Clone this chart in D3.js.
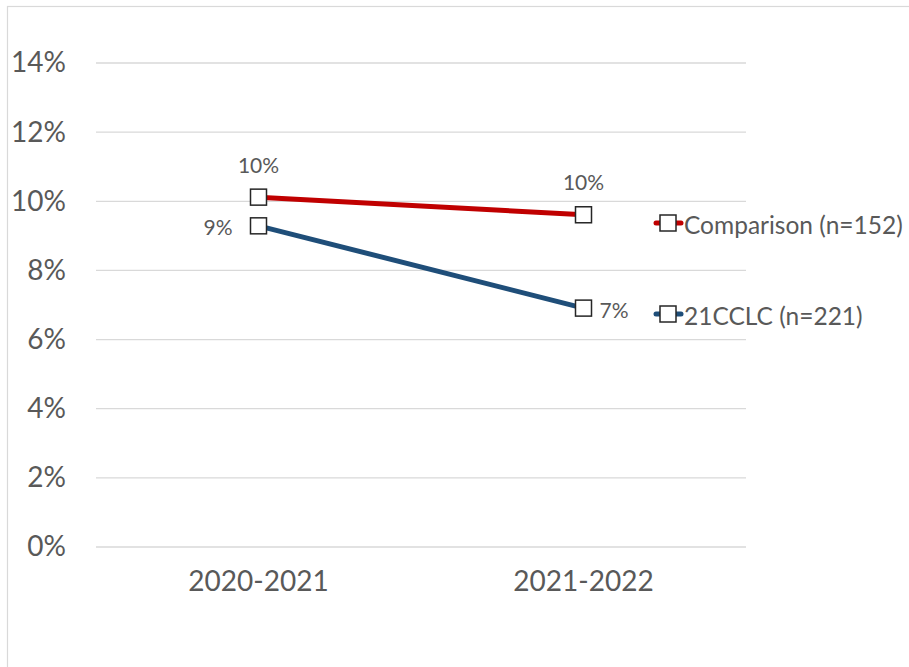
<!DOCTYPE html>
<html>
<head>
<meta charset="utf-8">
<script src="https://cdn.jsdelivr.net/npm/d3@7"></script>
<style>
  html, body { margin: 0; padding: 0; background: #fff; }
  svg { display: block; }
  text { font-family: Lato, "Open Sans", sans-serif; fill: #595959; }
</style>
</head>
<body>
<svg id="chart" width="909" height="667"></svg>
<script>
// School years on the category axis
const years = ["2020-2021", "2021-2022"];
// Share of students per group, by year (fractions)
const comparisonValues = [0.1012, 0.0961];
const cclcValues = [0.0929, 0.0691];
// Series names shown in the legend
const seriesNames = ["Comparison (n=152)", "21CCLC (n=221)"];
// Y axis ticks
const yTicks = [0, 0.02, 0.04, 0.06, 0.08, 0.10, 0.12, 0.14];

const series = [
  { name: seriesNames[0], values: comparisonValues, color: "#C00000", labelPos: ["above", "above"] },
  { name: seriesNames[1], values: cclcValues, color: "#1F4E79", labelPos: ["left", "right"] }
];

const svg = d3.select("#chart");
const W = 909, H = 667;
const plot = { left: 96, right: 746, top: 63, bottom: 547 };

// chart frame
svg.append("rect")
  .attr("x", 7.5).attr("y", 6.5)
  .attr("width", W + 10).attr("height", H + 10)
  .attr("fill", "none").attr("stroke", "#D9D9D9").attr("stroke-width", 1.2);

const x = d3.scaleBand().domain(years).range([plot.left, plot.right]);
const y = d3.scaleLinear().domain([0, 0.14]).range([plot.bottom, plot.top]);
const fmt = d3.format(".0%");

// gridlines
svg.append("g").selectAll("line").data(yTicks).join("line")
  .attr("x1", plot.left).attr("x2", plot.right)
  .attr("y1", d => y(d)).attr("y2", d => y(d))
  .attr("stroke", "#D9D9D9").attr("stroke-width", 1.3);

// y axis labels
const yAxis = d3.axisLeft(y).tickValues(yTicks).tickFormat(fmt).tickSize(0).tickPadding(0);
const gy = svg.append("g").attr("transform", "translate(66,0)").call(yAxis);
gy.select(".domain").remove();
gy.selectAll("text").attr("font-size", 28).attr("fill", "#595959")
  .style("font-family", "Lato, sans-serif");

// x axis labels
const xAxis = d3.axisBottom(x).tickSize(0).tickPadding(0);
const gx = svg.append("g").attr("transform", "translate(0,571)").call(xAxis);
gx.select(".domain").remove();
gx.selectAll("text").attr("font-size", 28).attr("fill", "#595959")
  .style("font-family", "Lato, sans-serif");

const cx = d => x(d) + x.bandwidth() / 2;
const line = d3.line().x(d => cx(d.year)).y(d => y(d.value));
const S = 16;

series.forEach(s => {
  const pts = years.map((yr, i) => ({ year: yr, value: s.values[i], pos: s.labelPos[i] }));
  svg.append("path").datum(pts)
    .attr("d", line).attr("fill", "none")
    .attr("stroke", s.color).attr("stroke-width", 5).attr("stroke-linecap", "round");
  svg.append("g").selectAll("rect").data(pts).join("rect")
    .attr("x", d => cx(d.year) - S / 2).attr("y", d => y(d.value) - S / 2)
    .attr("width", S).attr("height", S)
    .attr("fill", "#fff").attr("stroke", "#262626").attr("stroke-width", 1.5);
  svg.append("g").selectAll("text").data(pts).join("text")
    .attr("x", d => d.pos === "left" ? cx(d.year) - 26 : d.pos === "right" ? cx(d.year) + 16 : cx(d.year))
    .attr("y", d => d.pos === "above" ? y(d.value) - 33 : y(d.value) + 1)
    .attr("text-anchor", d => d.pos === "left" ? "end" : d.pos === "right" ? "start" : "middle")
    .attr("dominant-baseline", "central")
    .attr("font-size", 21).attr("fill", "#404040")
    .text(d => fmt(d.value));
});

// legend
const legendY = [223, 314];
const lg = svg.append("g").selectAll("g").data(series).join("g")
  .attr("transform", (d, i) => `translate(0,${legendY[i]})`);
lg.append("line").attr("x1", 656).attr("x2", 681).attr("y1", 0).attr("y2", 0)
  .attr("stroke", d => d.color).attr("stroke-width", 5).attr("stroke-linecap", "round");
lg.append("rect").attr("x", 668 - S / 2).attr("y", -S / 2).attr("width", S).attr("height", S)
  .attr("fill", "#fff").attr("stroke", "#262626").attr("stroke-width", 1.5);
lg.append("text").attr("x", 684).attr("y", 1).attr("dominant-baseline", "central")
  .attr("font-size", 24.5).attr("fill", "#595959").text(d => d.name);
</script>
</body>
</html>
